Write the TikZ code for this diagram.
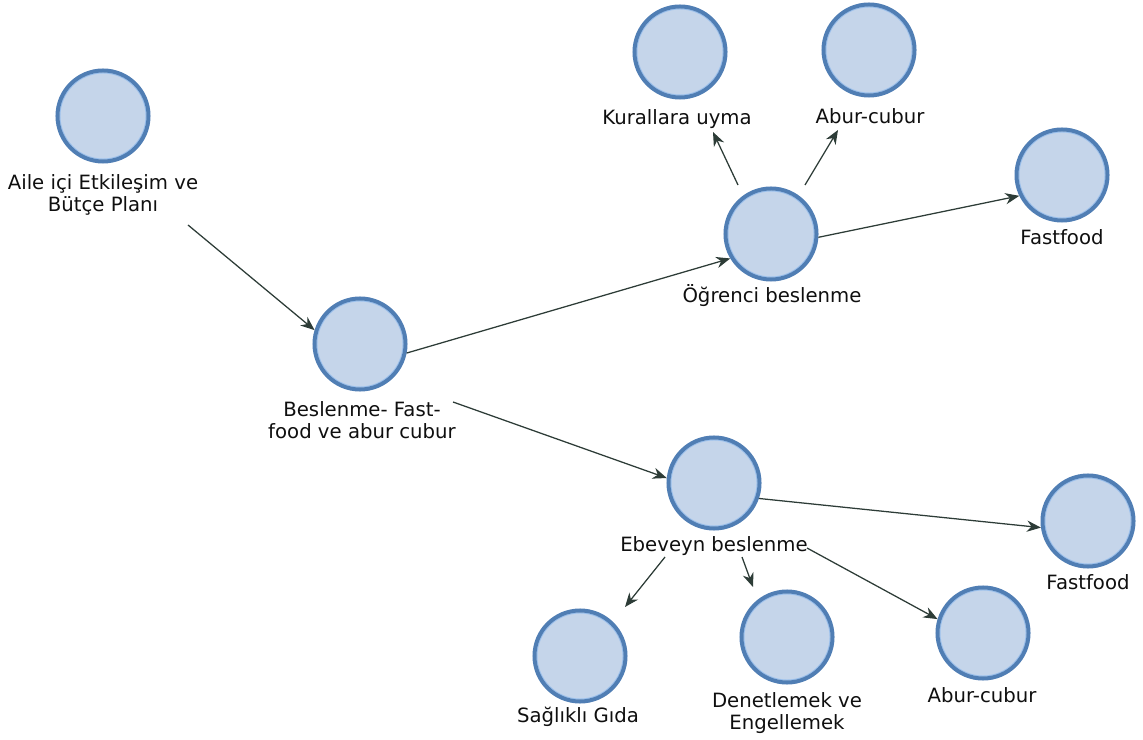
\documentclass[tikz,border=0pt]{standalone}
\usepackage{fontspec}
\setmainfont{DejaVu Sans}
\usetikzlibrary{arrows.meta}
\definecolor{circfill}{RGB}{197,213,234}
\definecolor{circline}{RGB}{80,126,180}
\definecolor{circlight}{RGB}{155,192,236}
\definecolor{arrcol}{RGB}{45,60,55}
\definecolor{txtcol}{RGB}{15,15,15}
\tikzset{
  circ/.style={circle, draw=circline, fill=circfill, line width=0.1cm,
    minimum size=2.275cm, inner sep=0pt,
    path picture={\draw[circlight, line width=0.7pt]
      (path picture bounding box.center) circle (1.075cm);}},
  lbl/.style={font=\fontsize{14pt}{15.6pt}\selectfont, text=txtcol,
    align=center, inner sep=0pt},
  arr/.style={draw=arrcol, line width=0.9pt, -{Stealth[length=10pt,width=8pt]}}
}
\begin{document}
\begin{tikzpicture}[x=0.025cm, y=-0.025cm]
        \useasboundingbox (0,0) rectangle (1143,740);
        % circles
        \foreach \n/\x/\y in {aile/103/116, besl/360/344, ogr/771/234,
            kural/680/52, aburu/869/50, fastu/1062/175, ebev/714/483,
            fastd/1088/521, saglik/580/656, denet/787/637, aburd/983/633} {
            \node[circ] (\n) at (\x,\y) {};
        }
        % labels
        \foreach \n/\x/\y/\t in {aile-l/103/195/{Aile içi Etkileşim ve\\Bütçe Planı},
            besl-l/362/420/{Beslenme- Fast-\\food ve abur cubur},
            ogr-l/772/296/{Öğrenci beslenme}, kural-l/677/119/{Kurallara uyma},
            aburu-l/870/116/{Abur-cubur}, fastu-l/1062/237/{Fastfood},
            ebev-l/714/546/{Ebeveyn beslenme}, fastd-l/1088/582/{Fastfood},
            saglik-l/578/717/{Sağlıklı Gıda}, denet-l/787/713/{Denetlemek ve\\Engellemek},
            aburd-l/982/695/{Abur-cubur}} {
            \node[lbl] (\n) at (\x,\y) {\t};
        }
        % arrows
        \draw[arr] ([shift={(85,30)}]aile-l.center) -- (besl.163);
        \draw[arr] (besl.-11) -- (ogr.211);
        \draw[arr] ([shift={(91,-18)}]besl-l.center) -- (ebev.174);
        \draw[arr] ([shift={(-33,-49)}]ogr.center) -- ([shift={(36,13)}]kural-l.center);
        \draw[arr] ([shift={(34,-49)}]ogr.center) -- ([shift={(-32,14)}]aburu-l.center);
        \draw[arr] (ogr.-4) -- (fastu.206);
        \draw[arr] (ebev.-19) -- (fastd.188);
        \draw[arr] ([shift={(-49,11)}]ebev-l.center) -- ([shift={(45,-49)}]saglik.center);
        \draw[arr] ([shift={(28,11)}]ebev-l.center) -- ([shift={(-34,-50)}]denet.center);
        \draw[arr] ([shift={(93,2)}]ebev-l.center) -- (aburd.163);
    \end{tikzpicture}
\end{document}
